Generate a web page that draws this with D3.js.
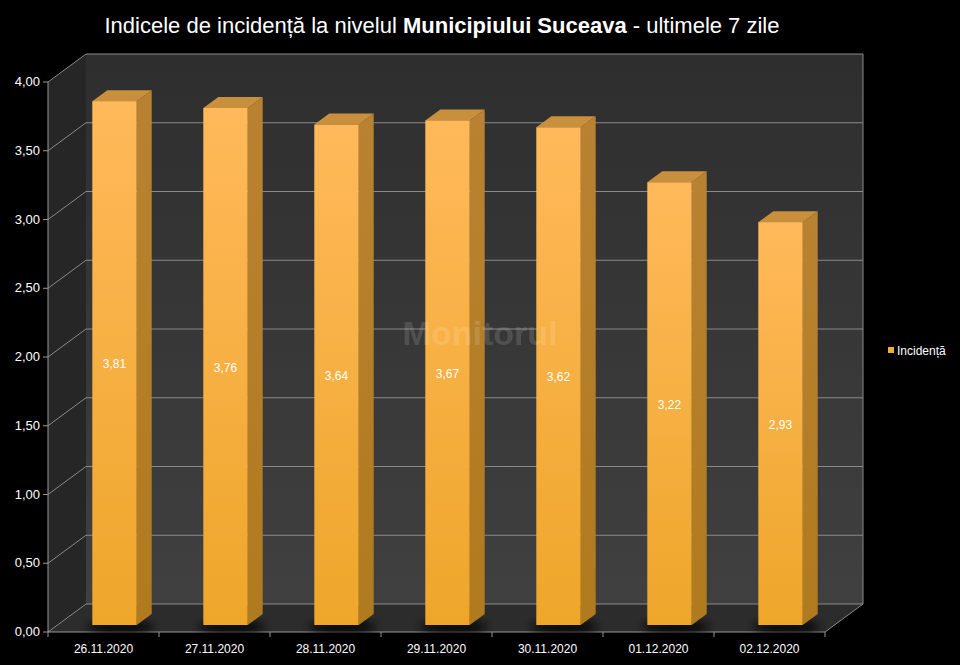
<!DOCTYPE html><html><head><meta charset="utf-8"><script src="https://cdn.jsdelivr.net/npm/d3@7"></script>
<style>body{margin:0;background:#000}text{font-family:"Liberation Sans",Arial,sans-serif}</style></head><body>
<svg id="c" width="960" height="665"></svg>
<script>
const categories=["26.11.2020","27.11.2020","28.11.2020","29.11.2020","30.11.2020","01.12.2020","02.12.2020"];
const values=[3.81,3.76,3.64,3.67,3.62,3.22,2.93];
const yTicks=[0,0.5,1,1.5,2,2.5,3,3.5,4];
const seriesName="Incidență";
const svg=d3.select("#c");
const x0=48,x1=825,yb=632,dx=38,dy=-28;
const y=d3.scaleLinear().domain([0,4]).range([yb,yb-550]);
const x=d3.scaleBand().domain(categories).range([x0,x1]).paddingInner(0.6).paddingOuter(0.3);
const defs=svg.append("defs");
const g1=defs.append("linearGradient").attr("id","bw").attr("x1",0).attr("y1",0).attr("x2",0).attr("y2",1);
g1.append("stop").attr("offset",0).attr("stop-color","#2e2e2e");g1.append("stop").attr("offset",1).attr("stop-color","#404040");
const g2=defs.append("linearGradient").attr("id","bf").attr("x1",0).attr("y1",0).attr("x2",0).attr("y2",1);
g2.append("stop").attr("offset",0).attr("stop-color","#ffb95a");g2.append("stop").attr("offset",1).attr("stop-color","#eea62a");
const g3=defs.append("linearGradient").attr("id","bs").attr("x1",0).attr("y1",0).attr("x2",0).attr("y2",1);
g3.append("stop").attr("offset",0).attr("stop-color","#b98232");g3.append("stop").attr("offset",1).attr("stop-color","#b07a1e");
defs.append("filter").attr("id","bl").append("feGaussianBlur").attr("stdDeviation",5);
const yTop=y(4);
svg.append("polygon").attr("points",`${x0+dx},${yTop+dy} ${x1+dx},${yTop+dy} ${x1+dx},${yb+dy} ${x0+dx},${yb+dy}`).attr("fill","url(#bw)");
svg.append("polygon").attr("points",`${x0},${yTop} ${x0+dx},${yTop+dy} ${x0+dx},${yb+dy} ${x0},${yb}`).attr("fill","#262626");
svg.append("polygon").attr("points",`${x0},${yb} ${x0+dx},${yb+dy} ${x1+dx},${yb+dy} ${x1},${yb}`).attr("fill","#2c2c2c");
yTicks.forEach(t=>{const yy=y(t);
 svg.append("polyline").attr("points",`${x0},${yy} ${x0+dx},${yy+dy} ${x1+dx},${yy+dy}`).attr("fill","none").attr("stroke","#8a8a8a").attr("stroke-width",1);
 svg.append("line").attr("x1",x0-5).attr("x2",x0).attr("y1",yy).attr("y2",yy).attr("stroke","#999");
 svg.append("text").attr("x",x0-8).attr("y",yy+4).attr("text-anchor","end").attr("fill","#fff").attr("font-size",13).text(d3.format(".2f")(t).replace(".",","));
});
svg.append("polyline").attr("points",`${x1},${yb} ${x1+dx},${yb+dy} ${x1+dx},${yTop+dy}`).attr("fill","none").attr("stroke","#8a8a8a");
svg.append("line").attr("x1",x0).attr("x2",x0).attr("y1",yTop).attr("y2",yb).attr("stroke","#999");
svg.append("line").attr("x1",x0).attr("x2",x1).attr("y1",yb).attr("y2",yb).attr("stroke","#999");
categories.forEach((c,i)=>{const xx=x0+(x1-x0)/7*i;svg.append("line").attr("x1",xx).attr("x2",xx).attr("y1",yb).attr("y2",yb+5).attr("stroke","#999");});
svg.append("line").attr("x1",x1).attr("x2",x1).attr("y1",yb).attr("y2",yb+5).attr("stroke","#999");
const bo=11,bdy=-7,ddx=15,ddy=-11,bw=x.bandwidth();
const base=yb+bdy;
const yv=v=>base-(yb-y(v));
categories.forEach((c,i)=>{const v=values[i];const L=x(c)+bo,R=L+bw,T=yv(v);
 svg.append("ellipse").attr("cx",L+bw/2+6).attr("cy",base+2).attr("rx",bw*0.75).attr("ry",7).attr("fill","#000").attr("opacity",0.8).attr("filter","url(#bl)");
 svg.append("polygon").attr("points",`${R},${T} ${R+ddx},${T+ddy} ${R+ddx},${base+ddy} ${R},${base}`).attr("fill","url(#bs)");
 svg.append("polygon").attr("points",`${L},${T} ${L+ddx},${T+ddy} ${R+ddx},${T+ddy} ${R},${T}`).attr("fill","#c88f3c");
 svg.append("rect").attr("x",L).attr("y",T).attr("width",bw).attr("height",base-T).attr("fill","url(#bf)");
 svg.append("text").attr("x",L+bw/2).attr("y",(T+base)/2+5).attr("text-anchor","middle").attr("fill","#fff").attr("font-size",12).text(d3.format(".2f")(v).replace(".",","));
 svg.append("text").attr("x",x0+(x1-x0)/7*(i+0.5)).attr("y",yb+21).attr("text-anchor","middle").attr("fill","#fff").attr("font-size",12).text(c);
});
svg.append("text").attr("x",480).attr("y",345).attr("text-anchor","middle").attr("fill","#fff").attr("opacity",0.12).attr("font-size",34).attr("font-weight","bold").text("Monitorul");
svg.append("rect").attr("x",888).attr("y",347).attr("width",6).attr("height",6).attr("fill","#f5ad3a");
svg.append("text").attr("x",897).attr("y",355).attr("fill","#fff").attr("font-size",12).text(seriesName);
const tt=svg.append("text").attr("x",442).attr("y",33).attr("text-anchor","middle").attr("fill","#fff").attr("font-size",22);
tt.append("tspan").text("Indicele de incidență la nivelul ");
tt.append("tspan").attr("font-weight","bold").text("Municipiului Suceava");
tt.append("tspan").text(" - ultimele 7 zile");
</script></body></html>
